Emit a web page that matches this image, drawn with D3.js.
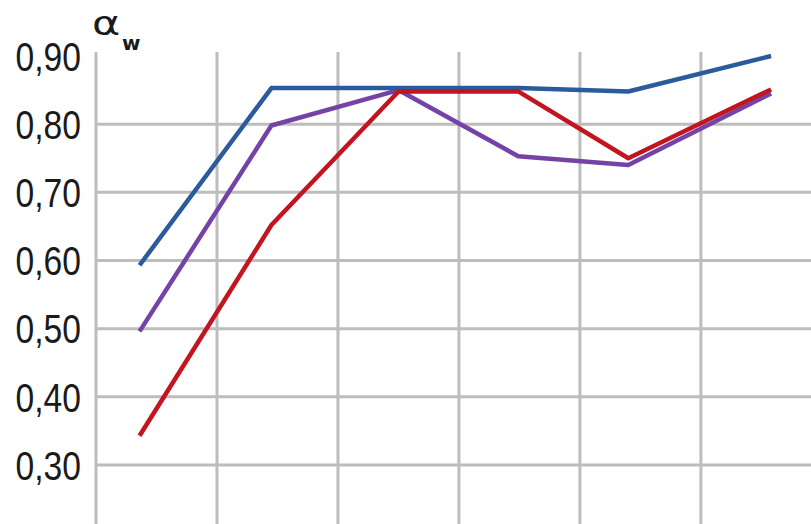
<!DOCTYPE html>
<html>
<head>
<meta charset="utf-8">
<script src="https://cdn.jsdelivr.net/npm/d3@7"></script>
<style>
  body { margin: 0; background: #fff; }
  svg { display: block; }
</style>
</head>
<body>
<svg class="chart"></svg>
<script>
const size = {w: 811, h: 524};

// x positions of the six measuring points (in grid-cell units)
const xPoints = [0.36, 1.45, 2.5, 3.49, 4.4, 5.58];
// vertical grid positions
const xGrid = [1, 2, 3, 4, 5];

// alpha_w values per series
const blueVals = [0.593, 0.853, 0.853, 0.853, 0.848, 0.90];
const purpleVals = [0.496, 0.798, 0.850, 0.753, 0.740, 0.845];
const redVals = [0.343, 0.652, 0.848, 0.848, 0.750, 0.851];

const yTicks = [0.30, 0.40, 0.50, 0.60, 0.70, 0.80, 0.90];
const yGrid = [0.30, 0.40, 0.50, 0.60, 0.70, 0.80];

const svg = d3.select('svg.chart')
    .attr('width', size.w)
    .attr('height', size.h);

const g = svg.append('g').classed('container', true);

// scales
const x = d3.scaleLinear()
    .domain([0, 5.91])
    .range([96, 811]);

const y = d3.scaleLinear()
    .domain([0.30, 0.90])
    .range([465, 56]);

// grid lines
g.selectAll('line.hgrid')
    .data(yGrid)
    .join('line')
    .classed('hgrid', true)
    .attr('x1', x(0)).attr('x2', size.w)
    .attr('y1', d => y(d)).attr('y2', d => y(d))
    .attr('stroke', '#bdbdbd')
    .attr('stroke-width', 3);

g.selectAll('line.vgrid')
    .data(xGrid)
    .join('line')
    .classed('vgrid', true)
    .attr('x1', d => x(d)).attr('x2', d => x(d))
    .attr('y1', 52).attr('y2', size.h)
    .attr('stroke', '#bdbdbd')
    .attr('stroke-width', 3);

// left axis line
g.append('line')
    .attr('x1', x(0)).attr('x2', x(0))
    .attr('y1', 52).attr('y2', size.h)
    .attr('stroke', '#bdbdbd')
    .attr('stroke-width', 3);

// tick labels (condensed by squeezing horizontally)
g.selectAll('text.ytick')
    .data(yTicks)
    .join('text')
    .classed('ytick', true)
    .attr('transform', d => `translate(81,${y(d)}) scale(0.82,1)`)
    .attr('dy', '0.36em')
    .attr('text-anchor', 'end')
    .style('font-family', '"Liberation Sans", Arial, sans-serif')
    .style('font-size', '41px')
    .style('fill', '#1a1a1a')
    .text(d => d3.format('.2f')(d).replace('.', ','));

// alpha_w label
g.append('text')
    .attr('transform', 'translate(92,35) scale(1.3,1)')
    .style('font-family', '"DejaVu Sans", sans-serif')
    .style('font-size', '33px')
    .style('fill', '#1a1a1a')
    .text('α');
g.append('text')
    .attr('x', 122)
    .attr('y', 50)
    .style('font-size', '20px')
    .style('font-weight', 'bold')
    .style('font-family', '"DejaVu Sans", sans-serif')
    .style('fill', '#1a1a1a')
    .text('w');

// lines
const line = d3.line()
    .x((d, i) => x(xPoints[i]))
    .y(d => y(d));

const series = [
    {vals: purpleVals, color: '#7542a6'},
    {vals: blueVals, color: '#2b5b9c'},
    {vals: redVals, color: '#c2151f'}
];

g.selectAll('path.series')
    .data(series)
    .join('path')
    .classed('series', true)
    .attr('d', d => line(d.vals))
    .attr('fill', 'none')
    .attr('stroke', d => d.color)
    .attr('stroke-width', 4.5)
    .attr('stroke-linejoin', 'round');
</script>
</body>
</html>
